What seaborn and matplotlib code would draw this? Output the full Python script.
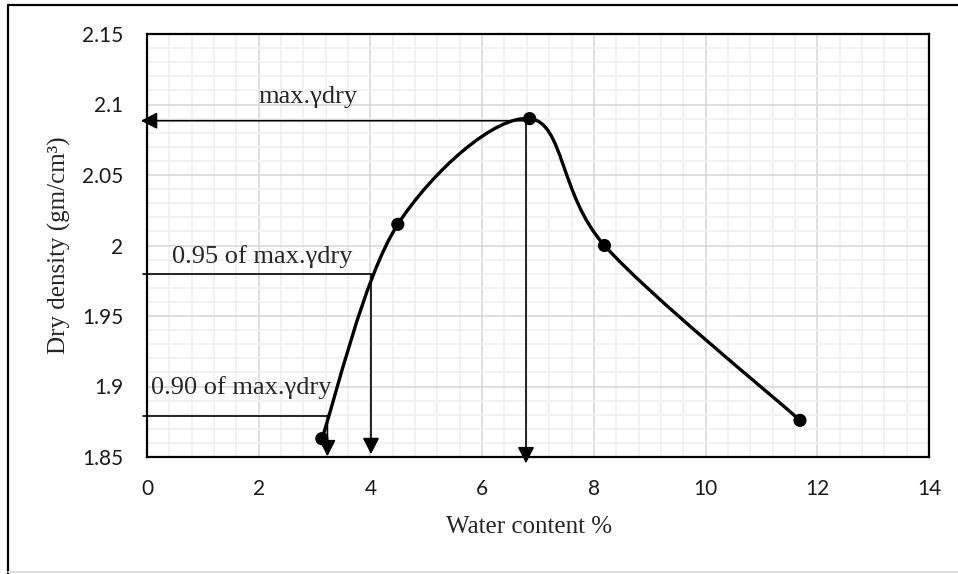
import numpy as np
import pandas as pd
import matplotlib
matplotlib.use("Agg")
import matplotlib.pyplot as plt
import seaborn as sns
from matplotlib.path import Path
from matplotlib.patches import PathPatch
from matplotlib.lines import Line2D
from matplotlib.ticker import MultipleLocator

# Compaction test results
water_content = [3.13, 4.49, 6.85, 8.19, 11.69]
dry_density = [1.863, 2.015, 2.090, 2.000, 1.876]

x_ticks = [0, 2, 4, 6, 8, 10, 12, 14]
y_ticks = [1.85, 1.90, 1.95, 2.00, 2.05, 2.10, 2.15]
y_tick_labels = ["1.85", "1.9", "1.95", "2", "2.05", "2.1", "2.15"]

# Guide lines for max / 95 % / 90 % of maximum dry density
guide_levels = [2.0885, 1.9798, 1.8794]
guide_water = [6.785, 4.01, 3.23]
guide_texts = ["max.γdry", "0.95 of max.γdry", "0.90 of max.γdry"]

df = pd.DataFrame({"w": water_content, "rho": dry_density})

sns.set_style("white")
plt.rcParams["font.family"] = ["Liberation Serif", "DejaVu Serif"]

W, H = 958, 574
fig = plt.figure(figsize=(W / 100, H / 100), dpi=100)
ax = fig.add_axes([147 / W, 1 - 457 / H, (929 - 147) / W, (457 - 34) / H])

ax.set_xlim(0, 14)
ax.set_ylim(1.85, 2.15)

# grid: major and minor
ax.xaxis.set_major_locator(MultipleLocator(2))
ax.xaxis.set_minor_locator(MultipleLocator(0.4))
ax.yaxis.set_major_locator(MultipleLocator(0.05))
ax.yaxis.set_minor_locator(MultipleLocator(0.01))
ax.grid(which="minor", color="#f0f0f0", lw=1.2, zorder=0)
ax.grid(which="major", color="#d9d9d9", lw=1.2, zorder=0.5)
ax.set_axisbelow(True)

# smooth curve through the points (Catmull-Rom style cubic Béziers)
P = df[["w", "rho"]].to_numpy()
n = len(P)
tang = []
for i in range(n):
    a = P[max(i - 1, 0)]
    b = P[min(i + 1, n - 1)]
    tang.append((b - a) / 6.0)
verts = [tuple(P[0])]
codes = [Path.MOVETO]
for i in range(n - 1):
    verts += [tuple(P[i] + tang[i]), tuple(P[i + 1] - tang[i + 1]), tuple(P[i + 1])]
    codes += [Path.CURVE4, Path.CURVE4, Path.CURVE4]
ax.add_patch(PathPatch(Path(verts, codes), fill=False, ec="black", lw=2.4,
                       zorder=3, capstyle="round", joinstyle="round"))

sns.scatterplot(data=df, x="w", y="rho", ax=ax, color="black", s=90,
                edgecolor="none", zorder=4, legend=False)

# guide lines and arrows
arrow_kw = dict(arrowstyle="-|>,head_length=0.55,head_width=0.28",
                color="black", lw=1.2, shrinkA=0, shrinkB=0,
                mutation_scale=18)
# max: horizontal arrow to the axis and vertical arrow down to the water content
ax.annotate("", xy=(-0.11, guide_levels[0]), xytext=(guide_water[0] + 0.05, guide_levels[0]),
            arrowprops=arrow_kw, annotation_clip=False, zorder=5)
ax.annotate("", xy=(guide_water[0], 1.8455), xytext=(guide_water[0], dry_density[2]),
            arrowprops=arrow_kw, annotation_clip=False, zorder=5)
# 0.95 and 0.90 levels
for lvl, wc, tip in [(guide_levels[1], guide_water[1], 1.852),
                     (guide_levels[2], guide_water[2], 1.8505)]:
    ax.plot([-0.07, wc], [lvl, lvl], color="black", lw=1.2, clip_on=False, zorder=5)
    ax.annotate("", xy=(wc, tip), xytext=(wc, lvl),
                arrowprops=arrow_kw, annotation_clip=False, zorder=5)

text_pos = [(2.0, 2.1013), (0.44, 1.9876), (0.08, 1.8947)]
for (tx, ty), s in zip(text_pos, guide_texts):
    ax.text(tx, ty, s, fontsize=19, ha="left", va="baseline",
            family=["Liberation Serif", "DejaVu Serif"], zorder=6)

# axes styling
for sp in ax.spines.values():
    sp.set_visible(True)
    sp.set_color("black")
    sp.set_linewidth(1.6)
    sp.set_zorder(7)

ax.set_xticks(x_ticks)
ax.set_yticks(y_ticks)
ax.set_yticklabels(y_tick_labels)
ax.tick_params(which="both", length=0)
ax.tick_params(axis="y", pad=17)
ax.tick_params(axis="x", pad=16)
for lab in ax.get_xticklabels() + ax.get_yticklabels():
    lab.set_family(["Lato", "DejaVu Sans"])
    lab.set_fontsize(15)
    lab.set_color("#1a1a1a")

ax.set_xlabel("Water content %", fontsize=18)
ax.set_ylabel("Dry density (gm/cm³)", fontsize=18)
ax.xaxis.set_label_coords((529 - 147) / 782, (457 - 527) / 423)
ax.xaxis.label.set_va("center")
ax.yaxis.set_label_coords((59 - 147) / 782, 0.5)
ax.yaxis.label.set_va("center")

# outer chart frame
fig.add_artist(Line2D([8 / W, 8 / W], [0, 1 - 5 / H], transform=fig.transFigure,
                      color="black", lw=1.6))
fig.add_artist(Line2D([8 / W, 1], [1 - 5 / H, 1 - 5 / H], transform=fig.transFigure,
                      color="black", lw=1.6))
fig.add_artist(Line2D([8 / W, 1], [1 - 572 / H, 1 - 572 / H], transform=fig.transFigure,
                      color="#d9d9d9", lw=1.2))

fig.savefig("out.png", dpi=100)
